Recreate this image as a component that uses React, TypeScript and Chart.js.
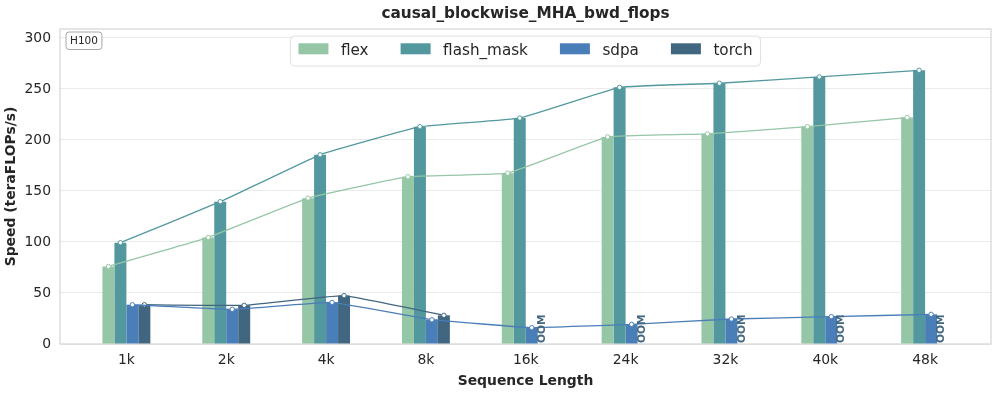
import React, { useEffect, useRef } from "react";
import { Chart, registerables } from "chart.js";

Chart.register(...registerables);

const chartTitle = "causal_blockwise_MHA_bwd_flops";
const xAxisTitle = "Sequence Length";
const yAxisTitle = "Speed (teraFLOPs/s)";
const gpuLabel = "H100";
const oomLabel = "OOM";

const categories = ["1k", "2k", "4k", "8k", "16k", "24k", "32k", "40k", "48k"];
const seriesNames = ["flex", "flash_mask", "sdpa", "torch"];
const flexValues = [76, 104.5, 143, 164, 167.5, 203, 206, 213, 222];
const flashMaskValues = [99.3, 139.5, 185.5, 213, 221.5, 251.6, 255.6, 261.8, 268.3];
const sdpaValues = [38.5, 34, 40.8, 23.8, 16, 19.3, 24.5, 26.8, 29.1];
const torchValues: (number | null)[] = [38.5, 37.9, 47.4, 28.1, null, null, null, null, null];
const yTicks = [0, 50, 100, 150, 200, 250, 300];

const seriesValues = [flexValues, flashMaskValues, sdpaValues, torchValues];
const colors = ["#95C6A6", "#52989E", "#4A7EB9", "#41667F"];

const FONT = "'DejaVu Sans', sans-serif";
const TEXT = "#262626";
const CAT_PCT = 0.48;
const nSeries = seriesNames.length;
const barOffsets = seriesNames.map((_, k) => (k - (nSeries - 1) / 2) * (CAT_PCT / nSeries));

function roundRect(ctx: CanvasRenderingContext2D, x: number, y: number, w: number, h: number, r: number) {
  ctx.beginPath();
  ctx.moveTo(x + r, y);
  ctx.lineTo(x + w - r, y);
  ctx.arcTo(x + w, y, x + w, y + r, r);
  ctx.lineTo(x + w, y + h - r);
  ctx.arcTo(x + w, y + h, x + w - r, y + h, r);
  ctx.lineTo(x + r, y + h);
  ctx.arcTo(x, y + h, x, y + h - r, r);
  ctx.lineTo(x, y + r);
  ctx.arcTo(x, y, x + r, y, r);
  ctx.closePath();
}

const overlayPlugin = {
  id: "overlay",
  beforeDatasetsDraw(chart: any) {
    const { ctx, chartArea: a } = chart;
    ctx.save();
    ctx.strokeStyle = "#d6d6d6";
    ctx.lineWidth = 1.25;
    ctx.strokeRect(a.left, a.top, a.right - a.left, a.bottom - a.top);
    ctx.restore();
  },
  afterDatasetsDraw(chart: any) {
    const { ctx, chartArea: a } = chart;
    const xs = chart.scales.x;
    const ys = chart.scales.y;

    // OOM markers
    ctx.save();
    ctx.font = `bold 10.6px ${FONT}`;
    ctx.fillStyle = colors[3];
    torchValues.forEach((v, i) => {
      if (v === null) {
        const px = xs.getPixelForValue(i + barOffsets[3]);
        const py = ys.getPixelForValue(0);
        ctx.save();
        ctx.translate(px, py);
        ctx.rotate(-Math.PI / 2);
        ctx.textAlign = "left";
        ctx.textBaseline = "middle";
        ctx.fillText(oomLabel, 1, -1.5);
        ctx.restore();
      }
    });
    ctx.restore();

    // Title
    ctx.save();
    ctx.font = `bold 15.3px ${FONT}`;
    ctx.fillStyle = TEXT;
    ctx.textAlign = "center";
    ctx.textBaseline = "alphabetic";
    ctx.fillText(chartTitle, (a.left + a.right) / 2, 17.5);
    ctx.restore();

    // GPU label box
    ctx.save();
    ctx.font = `10.5px ${FONT}`;
    const gw = ctx.measureText(gpuLabel).width + 8;
    const gx = a.left + 6;
    const gy = a.top + 3;
    roundRect(ctx, gx, gy, gw, 17.5, 3);
    ctx.fillStyle = "#ffffff";
    ctx.fill();
    ctx.strokeStyle = "#a8a8a8";
    ctx.lineWidth = 1;
    ctx.stroke();
    ctx.fillStyle = TEXT;
    ctx.textAlign = "center";
    ctx.textBaseline = "middle";
    ctx.fillText(gpuLabel, gx + gw / 2, gy + 9.2);
    ctx.restore();

    // Legend
    ctx.save();
    ctx.font = `15.2px ${FONT}`;
    const sw = 30, sh = 11, gap = 12.5, itemPad = 32, boxPad = 8;
    const widths = seriesNames.map((n) => ctx.measureText(n).width);
    const total = boxPad * 2 + widths.reduce((s, w) => s + sw + gap + w, 0) + itemPad * (nSeries - 1);
    const lx = (a.left + a.right) / 2 - total / 2;
    const ly = a.top + 7;
    roundRect(ctx, lx, ly, total, 30, 4);
    ctx.fillStyle = "rgba(255,255,255,0.85)";
    ctx.fill();
    ctx.strokeStyle = "#e0e0e0";
    ctx.lineWidth = 1;
    ctx.stroke();
    let x = lx + boxPad;
    seriesNames.forEach((n, k) => {
      ctx.fillStyle = colors[k];
      ctx.fillRect(x, ly + 7.3, sw, sh);
      ctx.fillStyle = TEXT;
      ctx.textAlign = "left";
      ctx.textBaseline = "alphabetic";
      ctx.fillText(n, x + sw + gap, ly + 19);
      x += sw + gap + widths[k] + itemPad;
    });
    ctx.restore();
  },
};

export default function App() {
  const ref = useRef<HTMLCanvasElement | null>(null);

  useEffect(() => {
    if (!ref.current) return;
    const barSets = seriesNames.map((name, k) => ({
      type: "bar" as const,
      label: name,
      data: seriesValues[k].map((v, i) => ({ x: i, y: v })),
      backgroundColor: colors[k],
      borderWidth: 0,
      categoryPercentage: CAT_PCT,
      barPercentage: 1,
      order: 2,
    }));
    const lineSets = seriesNames.map((name, k) => ({
      type: "line" as const,
      label: name + "_line",
      data: seriesValues[k].map((v, i) => ({ x: i + barOffsets[k], y: v })),
      borderColor: colors[k],
      borderWidth: 1.3,
      tension: 0.08,
      spanGaps: false,
      pointRadius: 2.2,
      pointBorderWidth: 1,
      pointBackgroundColor: "#ffffff",
      pointBorderColor: colors[k],
      order: 1,
    }));

    const chart = new Chart(ref.current, {
      type: "bar",
      data: { datasets: [...barSets, ...lineSets] as any },
      options: {
        animation: false,
        responsive: false,
        layout: { padding: { top: 29, right: 6, left: 0, bottom: 0 } },
        plugins: {
          legend: { display: false },
          tooltip: { enabled: false },
          title: { display: false },
        },
        scales: {
          x: {
            type: "linear",
            min: -0.665,
            max: 8.66,
            offset: false,
            grid: { display: false, drawTicks: false },
            border: { display: false },
            afterBuildTicks: (s: any) => {
              s.ticks = categories.map((_, i) => ({ value: i }));
            },
            afterFit: (s: any) => {
              s.height = 50;
            },
            ticks: {
              autoSkip: false,
              maxRotation: 0,
              padding: 8,
              color: TEXT,
              font: { family: FONT, size: 13.9 },
              callback: (v: any) => categories[Math.round(Number(v))] ?? "",
            },
            title: {
              display: true,
              text: xAxisTitle,
              color: TEXT,
              font: { family: FONT, size: 13.9, weight: "bold" },
              padding: { top: 0, bottom: 4 },
            },
          },
          y: {
            type: "linear",
            min: 0,
            max: 308.8,
            grid: { color: "#ebebeb", lineWidth: 1, drawTicks: false },
            border: { display: false },
            afterBuildTicks: (s: any) => {
              s.ticks = yTicks.map((v) => ({ value: v }));
            },
            afterFit: (s: any) => {
              s.width = 60;
            },
            ticks: {
              padding: 9,
              color: TEXT,
              font: { family: FONT, size: 13.9 },
              callback: (v: any) => String(v),
            },
            title: {
              display: true,
              text: yAxisTitle,
              color: TEXT,
              font: { family: FONT, size: 13.9, weight: "bold" },
              padding: { top: 3, bottom: 0 },
            },
          },
        },
      },
      plugins: [overlayPlugin],
    });
    return () => chart.destroy();
  }, []);

  return (
    <div style={{ position: "absolute", left: 0, top: 0, width: 997, height: 394, background: "#fff" }}>
      <canvas ref={ref} width={997} height={394} style={{ display: "block" }} />
    </div>
  );
}
